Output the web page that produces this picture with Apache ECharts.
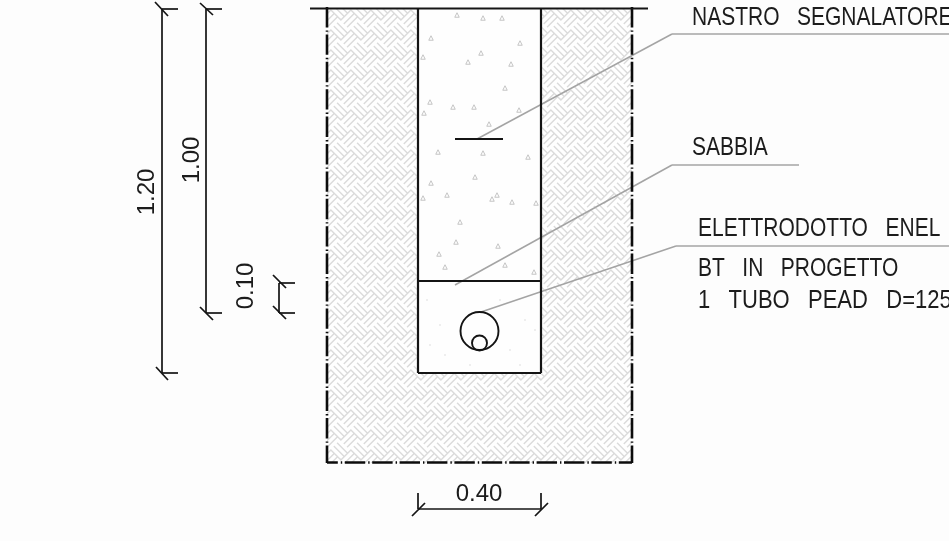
<!DOCTYPE html>
<html>
<head>
<meta charset="utf-8">
<style>html,body{margin:0;padding:0;background:#fdfdfd}#c{width:949px;height:541px;filter:blur(0.4px)}</style>
<script src="https://cdn.jsdelivr.net/npm/echarts@6/dist/echarts.min.js"></script>
</head>
<body>
<div id="c"></div>
<script>
// Drawing, in sheet units (x right, y down).
var soilArea = [[327, 9, 632, 463]];
var sandArea = [[418, 9, 541, 373]];
var boxLines = [[310, 8.5, 648, 8.5], [418, 9, 418, 373], [541, 9, 541, 373], [418, 373, 541, 373], [418, 281, 541, 281], [455, 139, 503, 139]];
var trenchSides = [[327, 7, 327, 463], [632, 7, 632, 463]];
var trenchFloor = [[327, 462.5, 632, 462.5]];
var leaderLines = [[477, 139, 672, 34], [672, 34, 949, 34], [455, 285, 672, 165], [672, 165, 799, 165], [481, 312, 676, 246], [676, 246, 949, 246]];
var dimLines = [
  [162, 9, 162, 373], [162, 9, 178, 9], [155, 2, 168, 16], [162, 373, 178, 373], [156, 367, 168, 380],
  [206, 9, 206, 313], [206, 9, 222, 9], [200, 3, 213, 15], [206, 313, 222, 313], [200, 307, 213, 320],
  [279, 283, 279, 313], [279, 283, 295, 283], [273, 275, 286, 288], [279, 313, 295, 313], [273, 306, 286, 319],
  [418, 509, 541, 509], [418, 493, 418, 509], [412, 516, 425, 503], [541, 493, 541, 509], [535, 516, 548, 503]
];
var pipes = [[479.5, 331, 19], [479.5, 343, 7.5]];
var sandGrains = [[457,15],[483,18],[502,18],[431,38],[520,43],[481,53],[423,57],[468,62],[511,64],[505,88],[430,102],[453,107],[474,107],[424,113],[519,110],[489,124],[438,152],[483,153],[528,157],[431,183],[475,177],[423,198],[447,195],[497,195],[492,199],[512,202],[536,203],[460,222],[456,242],[498,246],[439,254],[505,265],[445,267],[534,272]];
var sandDust = [[427,300],[440,325],[525,320],[535,330],[445,355],[520,365],[470,365],[500,300],[430,345],[510,350]];
var dimTexts = ['1.20', '1.00', '0.10', '0.40'];
var dimTextPos = [[147.5, 192, 90], [192, 160, 90], [246, 286, 90], [479, 494, 0]];
var noteTexts = ['NASTRO   SEGNALATORE', 'SABBIA', 'ELETTRODOTTO   ENEL', 'BT   IN   PROGETTO'];
var notePos = [[692, 18], [692, 148.5], [698, 229], [698, 269]];
var pipeNote = ['1   TUBO   PEAD   D=125'];
var pipeNotePos = [[698, 301]];

function hatchTile() {
  // Basket weave at 45 degrees: checker blocks of three parallel strokes.
  var T = 20, S = 5, B = T / Math.SQRT2, cv = document.createElement('canvas');
  cv.width = cv.height = T;
  var g = cv.getContext('2d'), img = g.createImageData(T, T);
  for (var y = 0; y < T; y++) for (var x = 0; x < T; x++) {
    var sum = 0;
    for (var sy = 0; sy < S; sy++) for (var sx = 0; sx < S; sx++) {
      var px = x + (sx + .5) / S, py = y + (sy + .5) / S;
      var u = (px + py) / Math.SQRT2 / B, v = (px - py) / Math.SQRT2 / B;
      var i = Math.floor(u), j = Math.floor(v);
      var s = ((i + j) % 2 + 2) % 2 === 0 ? (u - i) : (v - j);
      var f = s * 3 - Math.floor(s * 3);
      if (f > 0.3) sum++;
    }
    var shade = Math.round(219 + (255 - 219) * sum / (S * S));
    var o = (y * T + x) * 4;
    img.data[o] = img.data[o + 1] = img.data[o + 2] = shade;
    img.data[o + 3] = 255;
  }
  g.putImageData(img, 0, 0);
  return cv;
}

function rectSeries(name, data, fill) {
  return {
    type: 'custom', name: name, data: data, silent: true, clip: false,
    renderItem: function (p, api) {
      var a = api.coord([api.value(0), api.value(1)]), b = api.coord([api.value(2), api.value(3)]);
      return { type: 'rect', shape: { x: a[0], y: a[1], width: b[0] - a[0], height: b[1] - a[1] }, style: { fill: fill } };
    }
  };
}
function segSeries(name, data, color, width, dash, dashOffset) {
  return {
    type: 'custom', name: name, data: data, silent: true, clip: false,
    renderItem: function (p, api) {
      var a = api.coord([api.value(0), api.value(1)]), b = api.coord([api.value(2), api.value(3)]);
      return { type: 'line', shape: { x1: a[0], y1: a[1], x2: b[0], y2: b[1] },
        style: { stroke: color, lineWidth: width, lineDash: dash || null, lineDashOffset: dashOffset || 0, lineCap: 'butt', fill: null } };
    }
  };
}
function textSeries(name, texts, pos, font, color, align, sx) {
  return {
    type: 'custom', name: name, silent: true, clip: false,
    data: pos.map(function (q) { return [q[0], q[1]]; }),
    renderItem: function (p, api) {
      var a = api.coord([api.value(0), api.value(1)]), r = pos[p.dataIndex][2] || 0;
      return { type: 'text', x: a[0], y: a[1], rotation: r * Math.PI / 180, scaleX: sx || 1,
        style: { text: texts[p.dataIndex], font: font, fill: color, align: align, verticalAlign: 'middle' } };
    }
  };
}

var centerDash = [20.4, 3, 1.4, 2.6];
var chart = echarts.init(document.getElementById('c'), null, { renderer: 'canvas' });
chart.setOption({
  animation: false,
  backgroundColor: '#fdfdfd',
  grid: { left: 0, top: 0, width: 949, height: 541 },
  xAxis: { type: 'value', min: 0, max: 949, show: false },
  yAxis: { type: 'value', min: 0, max: 541, inverse: true, show: false },
  series: [
    rectSeries('Terreno', soilArea, { image: hatchTile(), repeat: 'repeat' }),
    rectSeries('Sabbia', sandArea, '#fefefe'),
    { type: 'scatter', name: 'Grani', data: sandGrains, symbol: 'triangle', symbolSize: 4.5, silent: true,
      itemStyle: { color: 'rgba(255,255,255,0)', borderColor: '#b8b8b8', borderWidth: 1 } },
    { type: 'scatter', name: 'Polvere', data: sandDust, symbol: 'circle', symbolSize: 1.5, silent: true,
      itemStyle: { color: '#cfcfcf' } },
    segSeries('Richiami', leaderLines, '#a4a4a4', 1.5),
    segSeries('Scavo lati', trenchSides, '#0c0c0c', 2.6, centerDash),
    segSeries('Scavo fondo', trenchFloor, '#0c0c0c', 2.6, centerDash, 9.6),
    segSeries('Profilo', boxLines, '#141414', 2.2),
    segSeries('Quote', dimLines, '#141414', 1.7),
    {
      type: 'custom', name: 'Tubi', data: pipes, silent: true, clip: false,
      renderItem: function (p, api) {
        var a = api.coord([api.value(0), api.value(1)]);
        return { type: 'circle', shape: { cx: a[0], cy: a[1], r: api.size([api.value(2), 0])[0] },
          style: { fill: null, stroke: '#141414', lineWidth: 1.9 } };
      }
    },
    textSeries('Quote testo', dimTexts, dimTextPos, '24px "Liberation Sans"', '#1c1c1c', 'center'),
    textSeries('Note', noteTexts, notePos, '25px "Liberation Sans"', '#1c1c1c', 'left', 0.84),
    textSeries('Nota tubo', pipeNote, pipeNotePos, '25px "Liberation Sans"', '#1c1c1c', 'left', 0.88)
  ]
});
</script>
</body>
</html>
